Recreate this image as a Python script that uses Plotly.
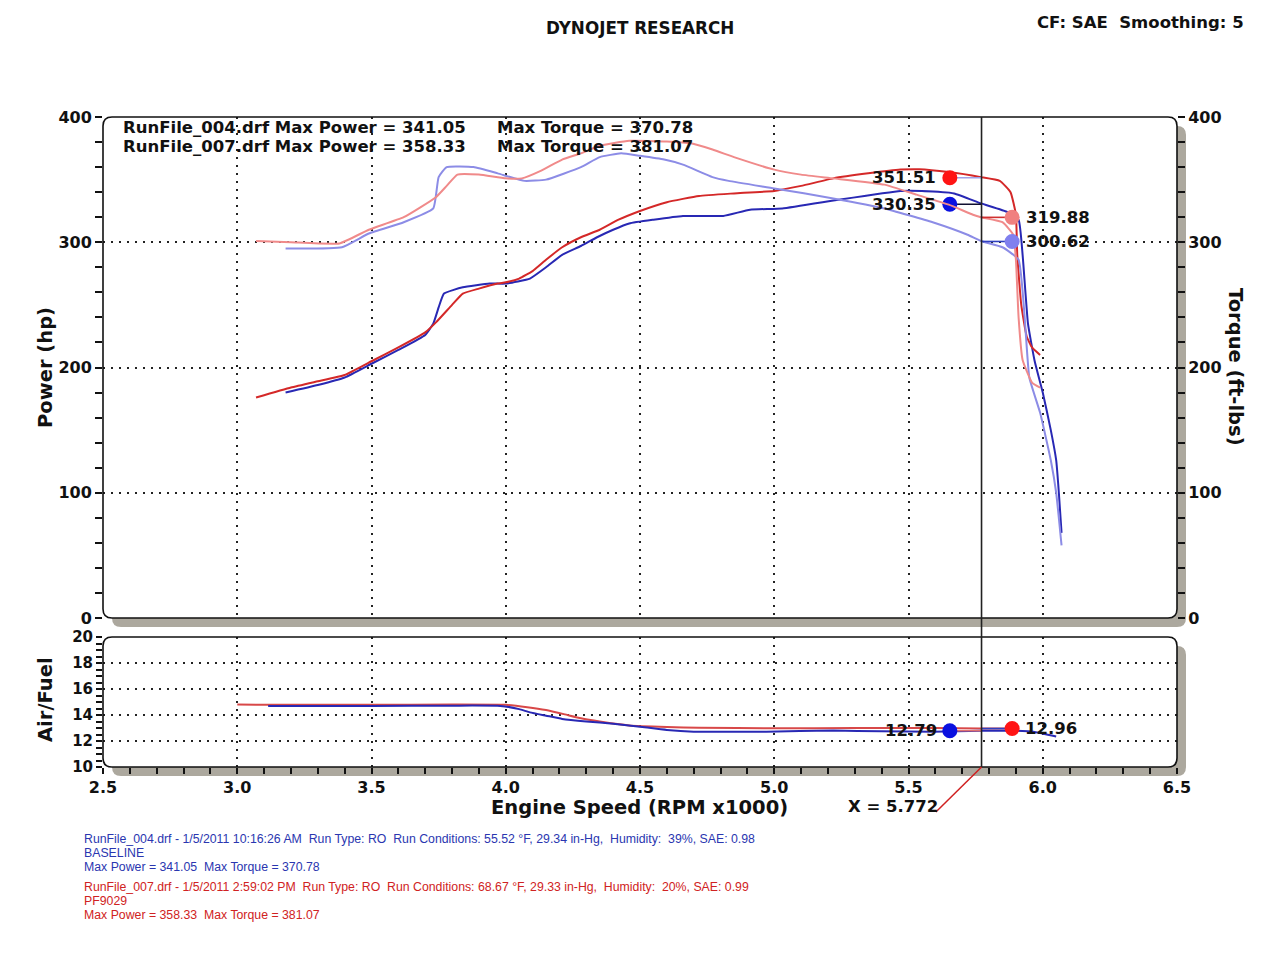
import plotly.graph_objects as go

# ---------------- data ----------------
run_names = ["RunFile_004.drf", "RunFile_007.drf"]
max_power = [341.05, 358.33]
max_torque = [370.78, 381.07]

# Run 004 (blue) power, hp
rpm_p004 = [3.18, 3.3, 3.4, 3.5, 3.6, 3.7, 3.73, 3.75, 3.77, 3.84, 3.94, 4.0, 4.09, 4.15, 4.21, 4.28,
            4.34, 4.4, 4.46, 4.55, 4.66, 4.81, 4.91, 5.03, 5.24, 5.47, 5.55, 5.67, 5.77, 5.87, 5.91,
            5.925, 5.945, 5.97, 6.0, 6.03, 6.05, 6.06, 6.07]
hp_004 = [180, 186, 192, 203, 214, 226, 235, 248, 259, 264, 267, 267, 271, 280, 290, 297,
          304, 310, 315, 318, 321, 321, 326, 327, 334, 341, 341, 339, 331, 324, 318,
          290, 235, 205, 180, 150, 126, 100, 68]

# Run 004 (light blue) torque, ft-lbs
rpm_t004 = [3.18, 3.39, 3.49, 3.62, 3.73, 3.75, 3.78, 3.88, 3.97, 4.07, 4.15, 4.28, 4.35, 4.43, 4.5,
            4.59, 4.66, 4.77, 4.83, 5.0, 5.22, 5.41, 5.59, 5.72, 5.77, 5.85, 5.91, 5.95, 5.99,
            6.03, 6.05, 6.07]
tq_004 = [295, 296, 307, 316, 327, 352, 360, 360, 355, 349, 350, 360, 368, 371, 369,
          366, 362, 352, 349, 343, 335, 327, 316, 306, 301, 296, 286, 192, 164,
          126, 100, 58]

# Run 007 (red) power, hp
rpm_p007 = [3.07, 3.2, 3.3, 3.4, 3.5, 3.6, 3.7, 3.74, 3.8, 3.84, 3.9, 3.97, 4.0, 4.05, 4.1, 4.15,
            4.21, 4.28, 4.35, 4.42, 4.5, 4.6, 4.72, 4.85, 5.0, 5.1, 5.22, 5.35, 5.47, 5.54, 5.65,
            5.77, 5.84, 5.88, 5.9, 5.905, 5.92, 5.94, 5.96, 5.99]
hp_007 = [176, 184, 189, 194, 205, 216, 228, 236, 250, 259, 263, 267, 268, 271, 277, 286,
          296, 304, 310, 318, 325, 332, 337, 339, 341, 345, 351, 355, 358, 358.3, 356,
          352, 349, 340, 322, 290, 250, 225, 216, 210]

# Run 007 (pink) torque, ft-lbs
rpm_t007 = [3.07, 3.2, 3.38, 3.49, 3.62, 3.74, 3.78, 3.82, 3.9, 4.0, 4.06, 4.13, 4.21, 4.28, 4.35,
            4.46, 4.6, 4.69, 4.77, 4.85, 5.0, 5.1, 5.22, 5.41, 5.53, 5.65, 5.74, 5.77, 5.85, 5.89,
            5.9, 5.91, 5.925, 5.96, 5.99]
tq_007 = [301, 300, 299, 310, 320, 336, 345, 354, 354, 351, 351, 357, 366, 371, 377,
          381, 380.5, 379, 374, 368, 358, 354, 351, 346, 338, 330, 322, 320, 316, 306,
          286, 240, 206, 188, 184]

# Air/Fuel
rpm_a004 = [3.115, 3.5, 3.8, 3.98, 4.05, 4.09, 4.15, 4.21, 4.3, 4.4, 4.5, 4.6, 4.7, 4.97, 5.22,
            5.4, 5.59, 5.77, 5.9, 5.97, 6.05]
afr_004 = [14.7, 14.7, 14.72, 14.7, 14.45, 14.2, 13.95, 13.7, 13.5, 13.33, 13.1, 12.85, 12.72,
           12.72, 12.8, 12.75, 12.72, 12.79, 12.78, 12.7, 12.35]
rpm_a007 = [3.0, 3.5, 3.8, 4.0, 4.08, 4.15, 4.22, 4.28, 4.35, 4.46, 4.6, 4.72, 5.0, 5.3, 5.6,
            5.77, 5.9]
afr_007 = [14.8, 14.78, 14.8, 14.78, 14.6, 14.38, 14.05, 13.75, 13.5, 13.2, 13.08, 13.02, 12.98,
           13.0, 13.0, 12.96, 12.96]

cursor_rpm = 5.772
cursor_power = [330.35, 351.51]    # 004, 007
cursor_torque = [300.62, 319.88]   # 004, 007
cursor_afr = [12.79, 12.96]        # 004, 007

notes_004 = ["RunFile_004.drf - 1/5/2011 10:16:26 AM  Run Type: RO  Run Conditions: 55.52 °F, 29.34 in-Hg,  Humidity:  39%, SAE: 0.98",
             "BASELINE", "Max Power = 341.05  Max Torque = 370.78"]
notes_007 = ["RunFile_007.drf - 1/5/2011 2:59:02 PM  Run Type: RO  Run Conditions: 68.67 °F, 29.33 in-Hg,  Humidity:  20%, SAE: 0.99",
             "PF9029", "Max Power = 358.33  Max Torque = 381.07"]

# ---------------- styling ----------------
W, H = 1280, 960
def PX(px): return px / W
def PY(py): return 1 - py / H

L, R = 103, 1177
MT, MB = 117, 618
AT, AB = 637, 767
xdom = [PX(L), PX(R)]
main_dom = [PY(MB), PY(MT)]
afr_dom = [PY(AB), PY(AT)]

C_RED = "#d42828"
C_PINK = "#f08a8a"
C_BLUE = "#2828b4"
C_LBLUE = "#8c8ce6"
BOLD = "DejaVu Sans"
GRID_DASH = "2px,6px"

fig = go.Figure()

LS = dict(shape="spline", smoothing=0.4)
fig.add_trace(go.Scatter(x=rpm_t004, y=tq_004, mode="lines", line=dict(color=C_LBLUE, width=2, **LS), xaxis="x", yaxis="y2"))
fig.add_trace(go.Scatter(x=rpm_t007, y=tq_007, mode="lines", line=dict(color=C_PINK, width=2, **LS), xaxis="x", yaxis="y2"))
fig.add_trace(go.Scatter(x=rpm_p004, y=hp_004, mode="lines", line=dict(color=C_BLUE, width=2, **LS), xaxis="x", yaxis="y"))
fig.add_trace(go.Scatter(x=rpm_p007, y=hp_007, mode="lines", line=dict(color=C_RED, width=2, **LS), xaxis="x", yaxis="y"))

fig.add_trace(go.Scatter(x=rpm_a007, y=afr_007, mode="lines", line=dict(color="#d84848", width=2, **LS), xaxis="x2", yaxis="y3"))
fig.add_trace(go.Scatter(x=rpm_a004, y=afr_004, mode="lines", line=dict(color=C_BLUE, width=2, **LS), xaxis="x2", yaxis="y3"))

left_x = cursor_rpm - 0.118
right_x = cursor_rpm + 0.114

leaders = [
    (left_x, cursor_power[1], "#a0a0e8", "#ff1414", "y", "x"),
    (left_x, cursor_power[0], "#101030", "#0a10e0", "y", "x"),
    (right_x, cursor_torque[1], "#d03030", "#f08080", "y2", "x"),
    (right_x, cursor_torque[0], "#3040c0", "#8080ee", "y2", "x"),
    (left_x, cursor_afr[0], "#e07070", "#0a10e0", "y3", "x2"),
    (right_x, cursor_afr[1], "#3040c0", "#ff1414", "y3", "x2"),
]
for mx, val, lc, mc, ya, xa in leaders:
    fig.add_trace(go.Scatter(x=[cursor_rpm, mx], y=[val, val], mode="lines",
                             line=dict(color=lc, width=1.6), xaxis=xa, yaxis=ya))
for mx, val, lc, mc, ya, xa in leaders:
    fig.add_trace(go.Scatter(x=[mx], y=[val], mode="markers",
                             marker=dict(color=mc, size=15, line=dict(width=0)), xaxis=xa, yaxis=ya))

tickfont = dict(family=BOLD, size=16, color="#111", weight="bold")
common_grid = dict(showgrid=True, gridcolor="#222", gridwidth=1.6, griddash=GRID_DASH, zeroline=False,
                   showline=False, automargin=False)
TK = dict(tickwidth=1.5, tickcolor="#111")
NOGRID = dict(showgrid=False, zeroline=False, showline=False, automargin=False)

layout = dict(
    template="none",
    width=W, height=H, showlegend=False,
    paper_bgcolor="white", plot_bgcolor="rgba(0,0,0,0)",
    margin=dict(l=0, r=0, t=0, b=0, pad=0, autoexpand=False),
    xaxis=dict(domain=xdom, range=[2.5, 6.5], anchor="y", dtick=0.5, tick0=2.5,
               showticklabels=False, ticks="", **common_grid),
    yaxis=dict(domain=main_dom, range=[0, 400], anchor="x", dtick=100, tick0=0,
               ticks="outside", ticklen=7, tickfont=tickfont, **TK,
               minor=dict(dtick=20, ticks="outside", ticklen=7, showgrid=False, **TK),
               **common_grid),
    yaxis2=dict(range=[0, 400], overlaying="y", side="right", anchor="x", dtick=100, tick0=0,
                ticks="outside", ticklen=7, tickfont=tickfont, **TK,
                minor=dict(dtick=20, ticks="outside", ticklen=7, **TK), **NOGRID),
    yaxis4=dict(range=[0, 400], overlaying="y", side="left", anchor="x", dtick=20, tick0=0,
                ticks="inside", ticklen=6, showticklabels=False, **TK, **NOGRID),
    yaxis5=dict(range=[0, 400], overlaying="y", side="right", anchor="x", dtick=20, tick0=0,
                ticks="inside", ticklen=6, showticklabels=False, **TK, **NOGRID),
    xaxis2=dict(domain=xdom, range=[2.5, 6.5], anchor="y3", dtick=0.5, tick0=2.5, tickformat=".1f",
                ticks="outside", ticklen=6, tickfont=tickfont, **TK,
                minor=dict(dtick=0.1, ticks="outside", ticklen=6, showgrid=False, **TK),
                **common_grid),
    xaxis3=dict(range=[2.5, 6.5], overlaying="x2", anchor="y3", dtick=0.1, tick0=2.5,
                ticks="inside", ticklen=6, showticklabels=False, **TK, **NOGRID),
    yaxis3=dict(domain=afr_dom, range=[10, 20], anchor="x2", dtick=2, tick0=10,
                ticks="outside", ticklen=6, **TK,
                tickfont=dict(family=BOLD, size=15, color="#111", weight="bold"),
                minor=dict(dtick=0.5, ticks="outside", ticklen=6, showgrid=False, **TK),
                **common_grid),
    yaxis6=dict(range=[10, 20], overlaying="y3", side="left", anchor="x2", dtick=0.5, tick0=10,
                ticks="inside", ticklen=6, showticklabels=False, **TK, **NOGRID),
)
fig.update_layout(**layout)

def rounded(x0, y0, x1, y1, r=9):
    X0, X1 = PX(x0), PX(x1)
    Y0, Y1 = PY(y0), PY(y1)
    rx, ry = r / W, r / H
    return (f"M {X0+rx},{Y0} L {X1-rx},{Y0} Q {X1},{Y0} {X1},{Y0-ry} "
            f"L {X1},{Y1+ry} Q {X1},{Y1} {X1-rx},{Y1} L {X0+rx},{Y1} "
            f"Q {X0},{Y1} {X0},{Y1+ry} L {X0},{Y0-ry} Q {X0},{Y0} {X0+rx},{Y0} Z")

shapes = []
for (t, b) in [(MT, MB), (AT, AB)]:
    shapes.append(dict(type="path", xref="paper", yref="paper", path=rounded(L + 9, t + 9, R + 9, b + 9),
                       fillcolor="#aca89e", line=dict(width=0), layer="below"))
    shapes.append(dict(type="path", xref="paper", yref="paper", path=rounded(L, t, R, b),
                       fillcolor="white", line=dict(width=0), layer="below"))
    shapes.append(dict(type="path", xref="paper", yref="paper", path=rounded(L, t, R, b),
                       fillcolor="rgba(0,0,0,0)", line=dict(color="#111", width=1.6), layer="above"))
shapes.append(dict(type="line", xref="x", yref="paper", x0=cursor_rpm, x1=cursor_rpm,
                   y0=PY(AB), y1=PY(MT), line=dict(color="#222", width=1.6)))
shapes.append(dict(type="line", xref="x2", yref="paper", x0=cursor_rpm, x1=cursor_rpm - 0.17,
                   y0=PY(AB), y1=PY(812), line=dict(color="#d02020", width=1.5)))
fig.update_layout(shapes=shapes)

ann = []
def A(text, x, y, size=15, color="#111", xanchor="center", family=BOLD, bold=True, angle=0, **kw):
    ann.append(dict(text=(f"<b>{text}</b>" if bold else text), x=PX(x), y=PY(y), xref="paper", yref="paper",
                    showarrow=False, xanchor=xanchor, yanchor="middle", textangle=angle,
                    font=dict(family=family, size=size, color=color), **kw))

NB = "\u00a0"
A("DYNOJET RESEARCH", 640, 28, size=16.8)
A(f"CF: SAE{NB}{NB}Smoothing: 5", 1246, 22, size=16.5, xanchor="right")

for i, yy in enumerate([127, 147]):
    A(f"{run_names[i]} Max Power = {max_power[i]:.2f}", 121, yy, size=16.5, xanchor="left")
    A(f"Max Torque = {max_torque[i]:.2f}", 495, yy, size=16.5, xanchor="left")

A("Power (hp)", 45, 368, size=19.5, angle=-90)
A("Torque (ft-lbs)", 1236, 367, size=19.5, angle=90)
A("Air/Fuel", 45, 700, size=19.5, angle=-90)
A("Engine Speed (RPM x1000)", 639, 807, size=19.5)

def VA(text, x, y, xa, ya, xshift, xanchor):
    ann.append(dict(text=f"<b>{text}</b>", x=x, y=y, xref=xa, yref=ya, showarrow=False,
                    xanchor=xanchor, yanchor="middle", xshift=xshift,
                    font=dict(family=BOLD, size=16.5, color="#111")))
VA(f"{cursor_power[1]:.2f}", left_x, cursor_power[1], "x", "y", -12, "right")
VA(f"{cursor_power[0]:.2f}", left_x, cursor_power[0], "x", "y", -12, "right")
VA(f"{cursor_torque[1]:.2f}", right_x, cursor_torque[1], "x", "y2", 12, "left")
VA(f"{cursor_torque[0]:.2f}", right_x, cursor_torque[0], "x", "y2", 12, "left")
VA(f"{cursor_afr[0]:.2f}", left_x, cursor_afr[0], "x2", "y3", -11, "right")
VA(f"{cursor_afr[1]:.2f}", right_x, cursor_afr[1], "x2", "y3", 11, "left")

ann.append(dict(text=f"<b>X = {cursor_rpm:.3f}</b>", x=cursor_rpm, y=PY(806), xref="x2", yref="paper",
                showarrow=False, xanchor="right", yanchor="middle", xshift=-42,
                font=dict(family=BOLD, size=16.5, color="#111")))

for i, t in enumerate(notes_004):
    A(t, 82, 839 + 14 * i, size=12.3, color="#2a36b0", xanchor="left", family="Liberation Sans", bold=False)
for i, t in enumerate(notes_007):
    A(t, 82, 887 + 14 * i, size=12.3, color="#d02222", xanchor="left", family="Liberation Sans", bold=False)

fig.update_layout(annotations=ann)
fig.write_html("out.html", config={"displayModeBar": False},
               post_script="document.body.style.margin='0';document.body.style.overflow='hidden';")
